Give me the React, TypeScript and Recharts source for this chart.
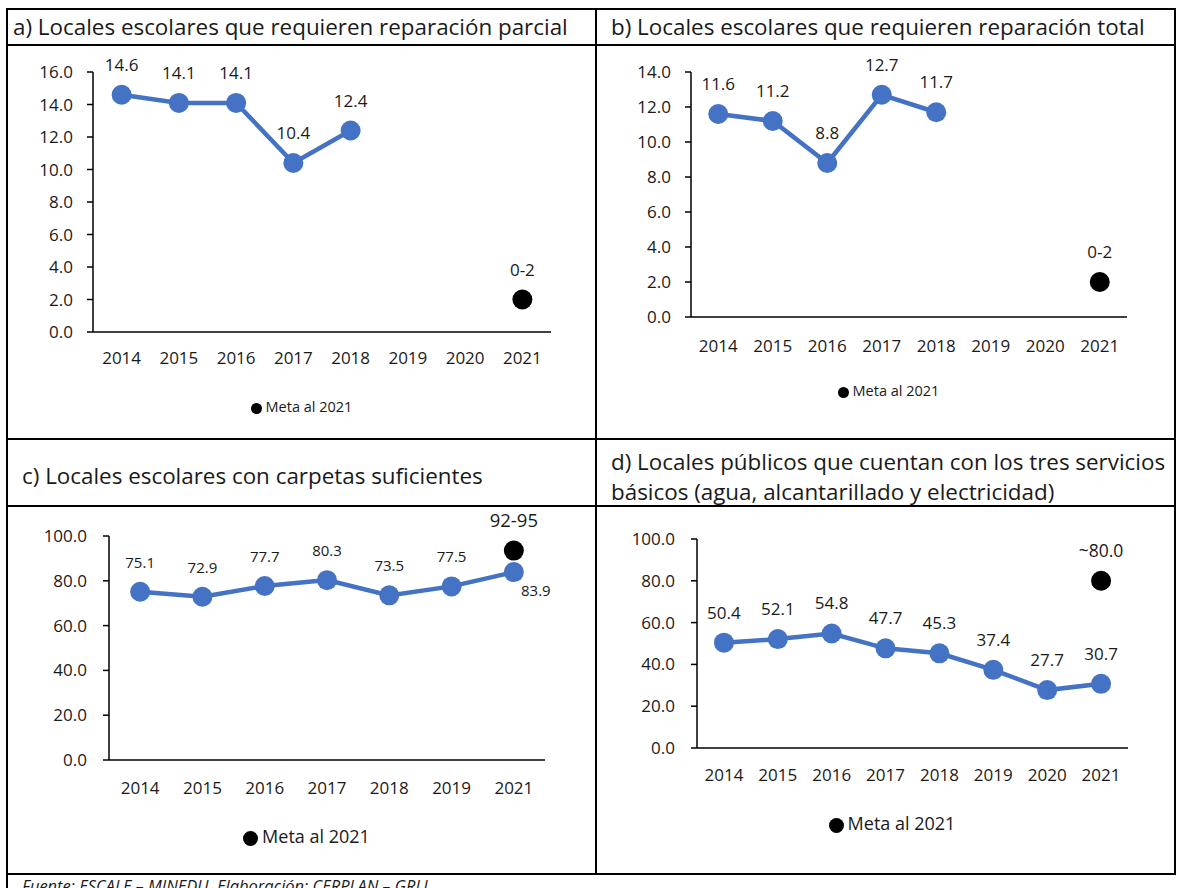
import React from 'react';
import { ComposedChart, Line, XAxis, YAxis, Legend, LabelList } from 'recharts';

const FONT = '"Open Sans", "Noto Sans", sans-serif';
const BLUE = '#4472C4';
const INK = '#1a1a1a';

// a) reparación parcial
const yearsA = ['2014', '2015', '2016', '2017', '2018', '2019', '2020', '2021'];
const valuesA = [14.6, 14.1, 14.1, 10.4, 12.4, null, null, null];
const metaA = [null, null, null, null, null, null, null, 2.0];
const metaLabelA = '0-2';
const yTicksA = [0, 2, 4, 6, 8, 10, 12, 14, 16];

// b) reparación total
const yearsB = ['2014', '2015', '2016', '2017', '2018', '2019', '2020', '2021'];
const valuesB = [11.6, 11.2, 8.8, 12.7, 11.7, null, null, null];
const metaB = [null, null, null, null, null, null, null, 2.0];
const metaLabelB = '0-2';
const yTicksB = [0, 2, 4, 6, 8, 10, 12, 14];

// c) carpetas suficientes
const yearsC = ['2014', '2015', '2016', '2017', '2018', '2019', '2021'];
const valuesC = [75.1, 72.9, 77.7, 80.3, 73.5, 77.5, 83.9];
const metaC = [null, null, null, null, null, null, 93.5];
const metaLabelC = '92-95';
const yTicksC = [0, 20, 40, 60, 80, 100];

// d) tres servicios básicos
const yearsD = ['2014', '2015', '2016', '2017', '2018', '2019', '2020', '2021'];
const valuesD = [50.4, 52.1, 54.8, 47.7, 45.3, 37.4, 27.7, 30.7];
const metaD = [null, null, null, null, null, null, null, 80.0];
const metaLabelD = '~80.0';
const yTicksD = [0, 20, 40, 60, 80, 100];

const LEGEND_NAME = 'Meta al 2021';

type PanelProps = {
  years: string[];
  values: (number | null)[];
  meta: (number | null)[];
  metaLabel: string;
  yTicks: number[];
  left: number;
  top: number;
  width: number;
  height: number;
  margin: { top: number; right: number; bottom: number; left: number };
  xHeight: number;
  legendHeight: number;
  tickFont: number;
  labelFont: number;
  metaFont: number;
  legendFont: number;
  iconSize: number;
  xTickMargin: number;
  yTickMargin: number;
  lastBelowRight?: boolean;
};

function Panel(p: PanelProps) {
  const n = p.years.length;
  const rows = p.years.map((y, i) => ({
    i,
    year: y,
    v: p.values[i],
    meta: p.meta[i],
    metaLabel: p.meta[i] == null ? null : p.metaLabel,
  }));
  const idx = p.years.map((_, i) => i);
  const bounds = [...idx.map((i) => i - 0.5), n - 0.5];
  const yMax = p.yTicks[p.yTicks.length - 1];

  const valueLabel = (props: any) => {
    const { x, y, value, index } = props;
    if (value == null || y == null) return null;
    if (p.lastBelowRight && index === n - 1) {
      return (
        <text x={x + 22} y={y + 18} textAnchor="middle" dominantBaseline="central"
          fontSize={p.labelFont} fontFamily={FONT} fill={INK}>
          {Number(value).toFixed(1)}
        </text>
      );
    }
    return (
      <text x={x} y={y - 24} textAnchor="middle" fontSize={p.labelFont} fontFamily={FONT} fill={INK}>
        {Number(value).toFixed(1)}
      </text>
    );
  };

  const metaText = (props: any) => {
    const { x, y, value } = props;
    if (value == null || y == null) return null;
    return (
      <text x={x} y={y - 24} textAnchor="middle" fontSize={p.metaFont} fontFamily={FONT} fill={INK}>
        {value}
      </text>
    );
  };

  return (
    <div style={{ position: 'absolute', left: p.left, top: p.top }}>
      <ComposedChart width={p.width} height={p.height} data={rows} margin={p.margin}>
        <XAxis
          xAxisId="marks"
          type="number"
          dataKey="i"
          domain={[-0.5, n - 0.5]}
          ticks={bounds}
          tick={false}
          tickLine={{ stroke: '#000', strokeWidth: 1.5 }}
          tickSize={6}
          axisLine={false}
          height={0}
          allowDataOverflow
        />
        <XAxis
          xAxisId="labels"
          type="number"
          dataKey="i"
          domain={[-0.5, n - 0.5]}
          ticks={idx}
          interval={0}
          tickFormatter={(i: number) => p.years[i] ?? ''}
          tickLine={false}
          tickSize={6}
          tickMargin={p.xTickMargin}
          axisLine={{ stroke: '#000', strokeWidth: 1.5 }}
          tick={{ fill: INK, fontSize: p.tickFont, fontFamily: FONT }}
          height={p.xHeight}
          allowDataOverflow
        />
        <YAxis
          type="number"
          domain={[0, yMax]}
          ticks={p.yTicks}
          interval={0}
          tickFormatter={(v: number) => v.toFixed(1)}
          width={55}
          tickSize={6}
          tickMargin={p.yTickMargin}
          axisLine={{ stroke: '#000', strokeWidth: 1.5 }}
          tickLine={{ stroke: '#000', strokeWidth: 1.5 }}
          tick={{ fill: INK, fontSize: p.tickFont, fontFamily: FONT }}
          allowDataOverflow
        />
        <Legend
          verticalAlign="bottom"
          align="center"
          height={p.legendHeight}
          iconType="circle"
          iconSize={p.iconSize}
          wrapperStyle={{ fontFamily: FONT, fontSize: p.legendFont, lineHeight: `${p.legendHeight}px`, paddingLeft: 12 }}
          formatter={(v: string) => <span style={{ color: INK }}>{v}</span>}
        />
        <Line
          xAxisId="labels"
          dataKey="meta"
          name={LEGEND_NAME}
          stroke="#000"
          strokeWidth={0}
          dot={{ r: 10, fill: '#000', stroke: 'none' }}
          activeDot={false}
          legendType="circle"
          isAnimationActive={false}
        >
          <LabelList dataKey="metaLabel" content={metaText} />
        </Line>
        <Line
          xAxisId="labels"
          dataKey="v"
          name="valor"
          stroke={BLUE}
          strokeWidth={4.5}
          dot={{ r: 10, fill: BLUE, stroke: 'none' }}
          activeDot={false}
          legendType="none"
          isAnimationActive={false}
        >
          <LabelList dataKey="v" content={valueLabel} />
        </Line>
      </ComposedChart>
    </div>
  );
}

const rule = (left: number, top: number, width: number, height: number) => (
  <div style={{ position: 'absolute', left, top, width, height, background: '#000' }} />
);

export default function App() {
  const titleStyle: React.CSSProperties = {
    position: 'absolute',
    fontFamily: FONT,
    fontSize: 22.4,
    color: INK,
    whiteSpace: 'nowrap',
  };
  return (
    <div style={{ position: 'absolute', left: 0, top: 0, width: 1177, height: 888, overflow: 'hidden', background: '#fff' }}>
      <div style={{ ...titleStyle, left: 13, top: 10, lineHeight: '34px' }}>
        a) Locales escolares que requieren reparación parcial
      </div>
      <div style={{ ...titleStyle, left: 611, top: 10, lineHeight: '34px' }}>
        b) Locales escolares que requieren reparación total
      </div>
      <div style={{ ...titleStyle, left: 22, top: 459, lineHeight: '34px' }}>
        c) Locales escolares con carpetas suficientes
      </div>
      <div style={{ ...titleStyle, left: 611, top: 447, lineHeight: '30px' }}>
        d) Locales públicos que cuentan con los tres servicios
        <br />
        básicos (agua, alcantarillado y electricidad)
      </div>

      <Panel years={yearsA} values={valuesA} meta={metaA} metaLabel={metaLabelA} yTicks={yTicksA}
        left={8} top={46} width={587} height={392}
        margin={{ top: 26, right: 44, bottom: 21, left: 30 }} xHeight={65} legendHeight={20}
        tickFont={17} labelFont={17} metaFont={17} legendFont={14.5} iconSize={11}
        xTickMargin={14} yTickMargin={14} />

      <Panel years={yearsB} values={valuesB} meta={metaB} metaLabel={metaLabelB} yTicks={yTicksB}
        left={597} top={46} width={577} height={392}
        margin={{ top: 26, right: 47, bottom: 37, left: 39 }} xHeight={64} legendHeight={20}
        tickFont={17} labelFont={17} metaFont={17} legendFont={14.5} iconSize={11}
        xTickMargin={17} yTickMargin={14} />

      <Panel years={yearsC} values={valuesC} meta={metaC} metaLabel={metaLabelC} yTicks={yTicksC}
        left={8} top={507} width={587} height={366}
        margin={{ top: 29, right: 50, bottom: 25, left: 46 }} xHeight={64} legendHeight={24}
        tickFont={17} labelFont={15} metaFont={18.5} legendFont={18} iconSize={15}
        xTickMargin={16} yTickMargin={16} lastBelowRight />

      <Panel years={yearsD} values={valuesD} meta={metaD} metaLabel={metaLabelD} yTicks={yTicksD}
        left={597} top={507} width={577} height={366}
        margin={{ top: 32, right: 46, bottom: 38, left: 45 }} xHeight={63} legendHeight={24}
        tickFont={17} labelFont={17} metaFont={17.5} legendFont={18} iconSize={15}
        xTickMargin={15} yTickMargin={16} />

      {rule(6, 8, 1170, 2)}
      {rule(6, 8, 2, 880)}
      {rule(1174, 8, 2, 867)}
      {rule(595, 8, 2, 867)}
      {rule(6, 44, 1170, 2)}
      {rule(6, 438, 1170, 2)}
      {rule(6, 505, 1170, 2)}
      {rule(6, 873, 1170, 2)}

      <div style={{ position: 'absolute', left: 22, top: 875, fontFamily: FONT, fontSize: 16.5, lineHeight: '22px', fontStyle: 'italic', color: INK, whiteSpace: 'nowrap' }}>
        Fuente: ESCALE – MINEDU. Elaboración: CERPLAN – GRLL
      </div>
    </div>
  );
}
